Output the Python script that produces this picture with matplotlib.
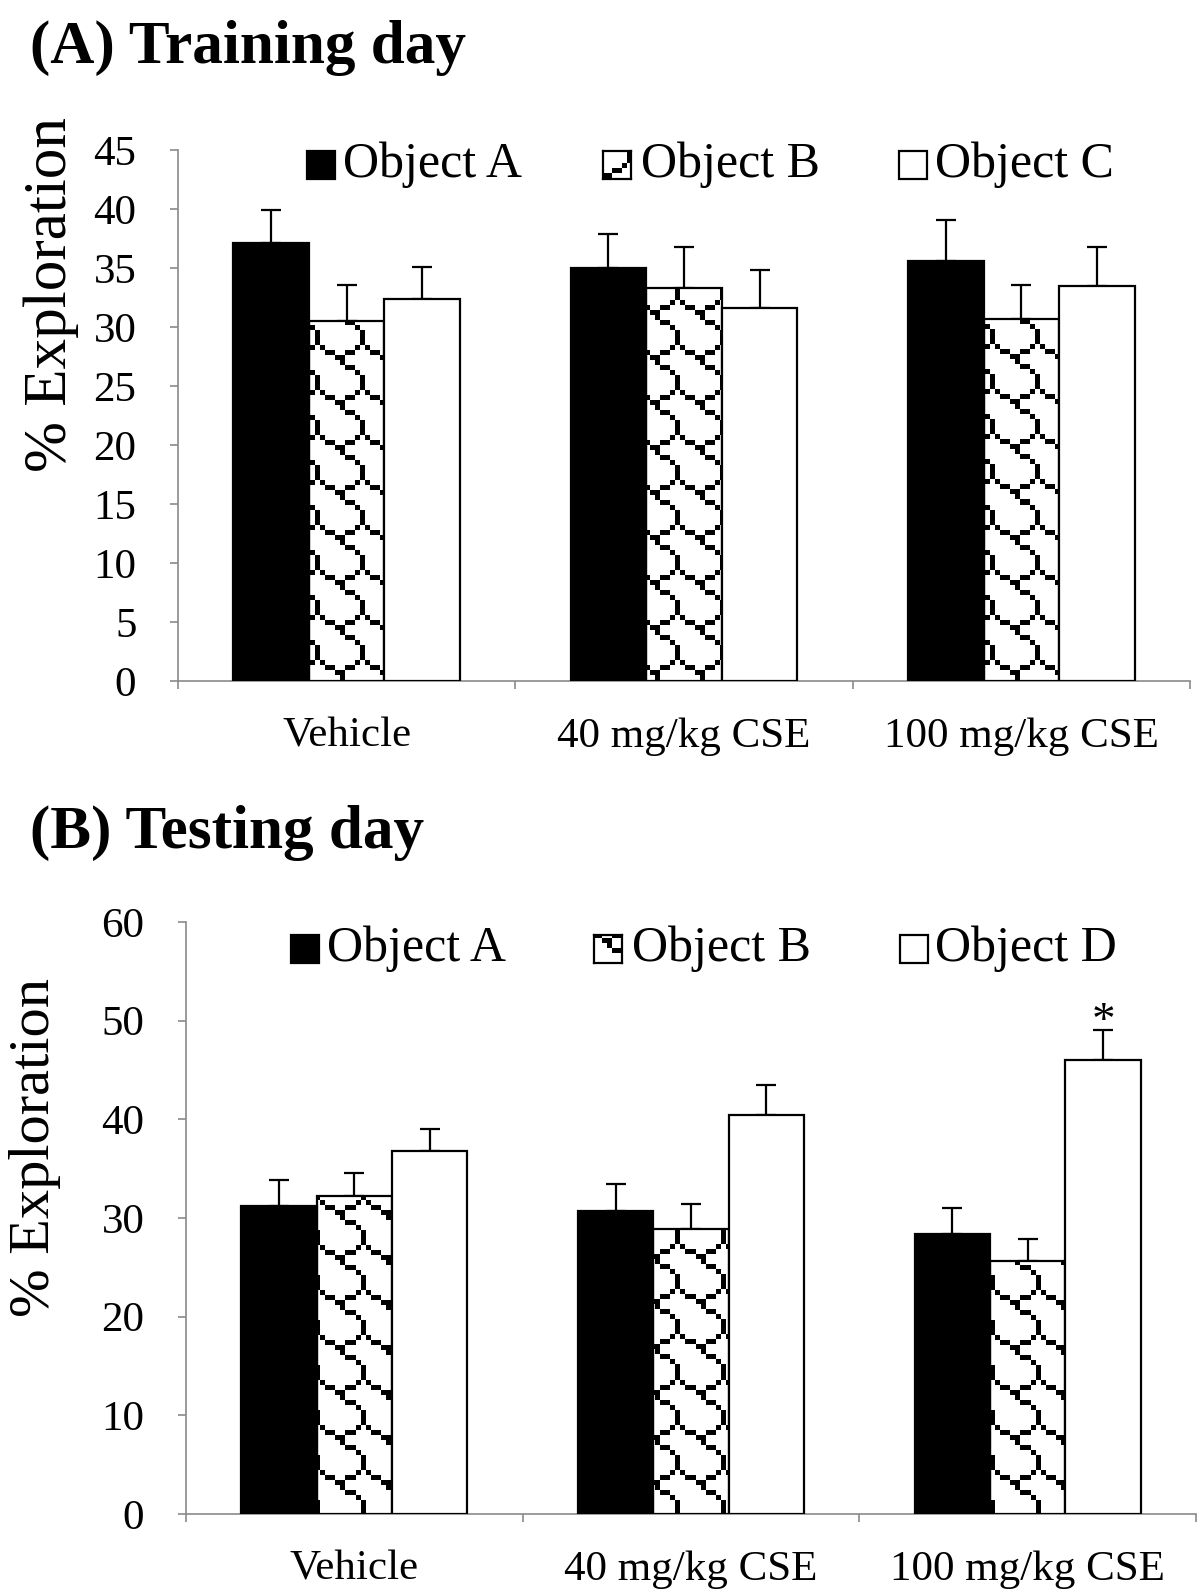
import numpy as np
import matplotlib
matplotlib.use("Agg")
import matplotlib.pyplot as plt
from matplotlib.patches import Rectangle

plt.rcParams['font.family'] = ['Liberation Serif', 'DejaVu Serif']

groups = ['Vehicle', '40 mg/kg CSE', '100 mg/kg CSE']

# training day
train_names = ['Object A', 'Object B', 'Object C']
train_a = [37.1, 35.0, 35.6]
train_b = [30.5, 33.3, 30.7]
train_c = [32.4, 31.6, 33.5]
train_a_err = [2.8, 2.9, 3.5]
train_b_err = [3.1, 3.5, 2.9]
train_c_err = [2.7, 3.2, 3.3]

# testing day
test_names = ['Object A', 'Object B', 'Object D']
test_a = [31.2, 30.7, 28.4]
test_b = [32.2, 28.9, 25.6]
test_d = [36.8, 40.4, 46.0]
test_a_err = [2.7, 2.7, 2.6]
test_b_err = [2.4, 2.5, 2.3]
test_d_err = [2.2, 3.1, 3.1]

W, H = 1200, 1592
SPINE = '#8a8a8a'

# zigzag fill pattern, 9x9 cells of 5 px
tile = np.zeros((9, 9))
for r, c in [(0, 5), (1, 6), (1, 7), (2, 8), (3, 0), (4, 0), (5, 0),
             (6, 1), (6, 8), (7, 2), (7, 3), (7, 6), (7, 7), (8, 4), (8, 5)]:
    tile[r, c] = 1


def pattern(x0, y0, w, h):
    xs = (np.arange(w) + x0) // 5 % 9
    ys = (np.arange(h) + y0) // 5 % 9
    return tile[np.ix_(ys, xs)]


def draw_panel(ax, vals, errs, ymax, step, xpad):
    x = np.arange(len(groups))
    bw = 0.224
    offs = [-bw, 0, bw]
    ax.set_xlim(-0.5, 2.5)
    ax.set_ylim(0, ymax)
    fills = ['black', 'none', 'white']
    for i in range(3):
        ax.bar(x + offs[i], vals[i], bw, color=fills[i], edgecolor='black',
               linewidth=1.6, zorder=3)
        ax.errorbar(x + offs[i], vals[i], yerr=[[0] * 3, errs[i]], fmt='none',
                    ecolor='black', elinewidth=1.6, capsize=7, capthick=1.6, zorder=2)
    # pattern inside the middle bars
    for xi, v in zip(x, vals[1]):
        (l, b), (r, t) = ax.transData.transform([(xi - bw / 2, 0), (xi + bw / 2, v)])
        w = int(round(r - l))
        h = int(round(t - b))
        img = pattern(int(round(l)), int(round(H - t)), w, h)
        ax.imshow(img, extent=(xi - bw / 2, xi + bw / 2, 0, v), cmap='gray_r',
                  vmin=0, vmax=1, interpolation='nearest', aspect='auto', zorder=2.5)
    ax.set_xlim(-0.5, 2.5)
    ax.set_ylim(0, ymax)
    ax.set_yticks(np.arange(0, ymax + 1, step))
    ax.set_xticks(x)
    ax.set_xticklabels(groups, fontsize=31)
    ax.set_xticks([-0.5, 0.5, 1.5, 2.5], minor=True)
    ax.tick_params(axis='x', which='major', length=0, pad=xpad)
    ax.tick_params(axis='x', which='minor', length=6, width=1.2, color=SPINE, direction='out')
    ax.tick_params(axis='y', length=6, width=1.2, color=SPINE, labelsize=31, pad=24)
    for s in ['top', 'right']:
        ax.spines[s].set_visible(False)
    for s in ['left', 'bottom']:
        ax.spines[s].set_color(SPINE)
        ax.spines[s].set_linewidth(1.2)


def legend(fig, names, sq_x, txt_x, yc):
    s = 28
    for i, name in enumerate(names):
        l = sq_x[i]
        b = H - yc - s / 2
        if i == 1:
            lax = fig.add_axes([l / W, b / H, s / W, s / H])
            lax.imshow(pattern(int(l) + 3, int(H - b - s) + 2, s, s), cmap='gray_r',
                       vmin=0, vmax=1, interpolation='nearest', aspect='auto')
            lax.set_xticks([])
            lax.set_yticks([])
            for sp in lax.spines.values():
                sp.set_linewidth(1.6)
        else:
            fc = 'black' if i == 0 else 'white'
            fig.add_artist(Rectangle((l / W, b / H), s / W, s / H, transform=fig.transFigure,
                                     facecolor=fc, edgecolor='black', linewidth=1.6))
        fig.text(txt_x[i] / W, (H - yc) / H, name, fontsize=36, va='center', ha='left')


fig = plt.figure(figsize=(W / 100, H / 100), dpi=100)

ax1 = fig.add_axes([178 / W, 1 - 681 / H, (1190 - 178) / W, (681 - 150) / H])
draw_panel(ax1, [train_a, train_b, train_c], [train_a_err, train_b_err, train_c_err], 45, 5, 26)
ax1.set_ylabel('% Exploration', fontsize=44)
ax1.yaxis.set_label_coords(-0.098, 0.727)

ax2 = fig.add_axes([186 / W, 1 - 1514 / H, (1196 - 186) / W, (1514 - 922) / H])
draw_panel(ax2, [test_a, test_b, test_d], [test_a_err, test_b_err, test_d_err], 60, 10, 26)
ax2.set_ylabel('% Exploration', fontsize=42)
ax2.yaxis.set_label_coords(-0.124, 0.619)

# star over object D at 100 mg/kg
ax2.text(2 + 0.224, test_d[2] + test_d_err[2] - 0.5, '*', fontsize=34,
         ha='center', va='baseline')

legend(fig, train_names, [307, 603, 899], [343, 641, 935], 165)
legend(fig, test_names, [291, 594, 900], [327, 632, 935], 949)

fig.text(30 / W, 1 - 63 / H, '(A) Training day', fontsize=44, fontweight='bold',
         ha='left', va='baseline')
fig.text(30 / W, 1 - 848 / H, '(B) Testing day', fontsize=44, fontweight='bold',
         ha='left', va='baseline')

fig.savefig('out.png', dpi=100)
